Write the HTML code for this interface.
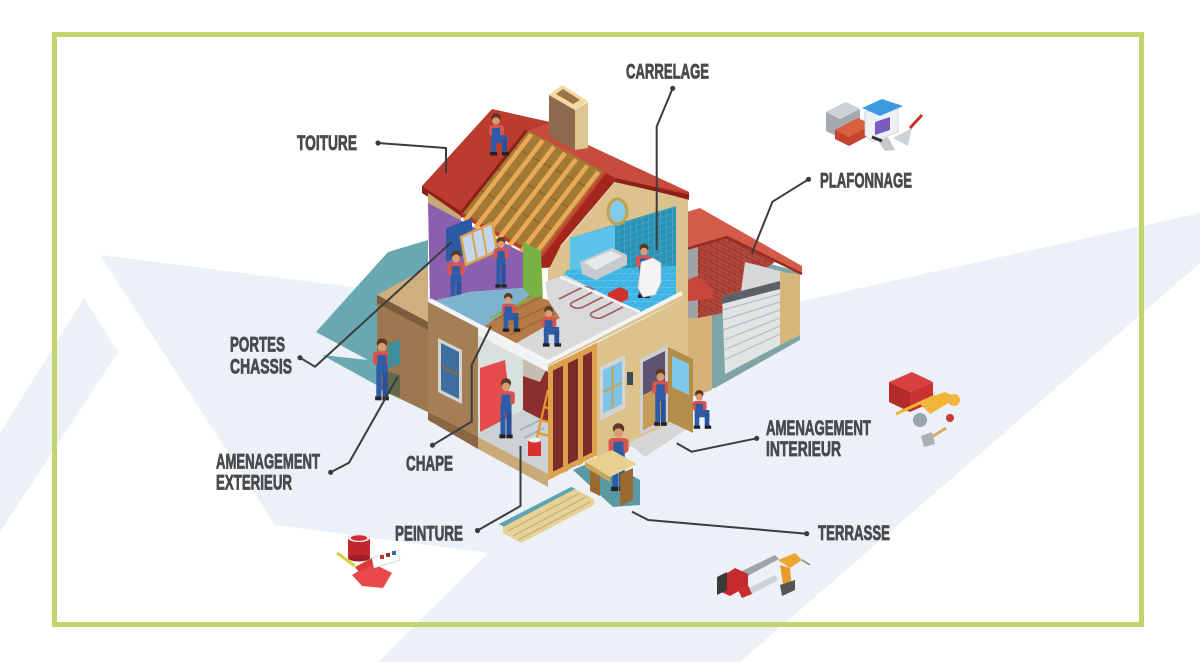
<!DOCTYPE html>
<html><head><meta charset="utf-8"><style>
html,body{margin:0;padding:0;background:#fff;}
svg{display:block;}
.lb{font-family:"Liberation Sans Narrow","Liberation Sans",sans-serif;font-weight:700;fill:#4a4a4c;stroke:#4a4a4c;stroke-width:0.8;font-size:21.5px;}
.ld{fill:none;stroke:#3c3c3e;stroke-width:2;stroke-linejoin:round;}
</style></head><body>
<svg width="1200" height="662" viewBox="0 0 1200 662" xmlns="http://www.w3.org/2000/svg">
<defs>
<pattern id="brick" width="12" height="8" patternUnits="userSpaceOnUse" patternTransform="skewY(28)">
<rect width="12" height="8" fill="#b3473b"/>
<path d="M0,0H12M0,4H12M3,0V4M9,4V8" stroke="#8f342b" stroke-width="0.9"/>
</pattern>
<pattern id="tile" width="6" height="6" patternUnits="userSpaceOnUse" patternTransform="skewY(-18)">
<rect width="6" height="6" fill="#2c92b3"/>
<path d="M0,0H6M0,0V6" stroke="#52b6d6" stroke-width="0.8"/>
</pattern>
<pattern id="ftile" width="7" height="7" patternUnits="userSpaceOnUse" patternTransform="skewX(-40)">
<rect width="7" height="7" fill="#3cb4e4"/>
<path d="M0,0H7M0,0V7" stroke="#7fd0f0" stroke-width="0.7"/>
</pattern>
<symbol id="w" viewBox="0 0 20 56">
<ellipse cx="10" cy="4.5" rx="4.6" ry="4.3" fill="#5b3a24"/>
<circle cx="10" cy="8" r="3.8" fill="#d89b72"/>
<rect x="2" y="12" width="16" height="12" rx="3" fill="#d9534f"/>
<rect x="6" y="15" width="8" height="10" fill="#2f5ca6"/>
<rect x="5" y="23" width="10" height="8" fill="#2f5ca6"/>
<rect x="5" y="30" width="4.6" height="21" fill="#2f5ca6"/>
<rect x="10.4" y="30" width="4.6" height="21" fill="#2a529a"/>
<rect x="4" y="51" width="5.6" height="3.5" fill="#222"/>
<rect x="10.4" y="51" width="5.6" height="3.5" fill="#222"/>
</symbol>
<symbol id="k" viewBox="0 0 24 44">
<ellipse cx="9" cy="4.5" rx="4.6" ry="4.3" fill="#5b3a24"/>
<circle cx="9" cy="8" r="3.8" fill="#d89b72"/>
<rect x="2" y="12" width="15" height="11" rx="3" fill="#d9534f"/>
<rect x="5" y="15" width="8" height="9" fill="#2f5ca6"/>
<rect x="4" y="22" width="16" height="8" fill="#2f5ca6"/>
<rect x="15" y="26" width="5" height="14" fill="#2a529a"/>
<rect x="4" y="26" width="5" height="14" fill="#2f5ca6"/>
<rect x="3" y="39" width="7" height="3.5" fill="#222"/>
<rect x="15" y="39" width="7" height="3.5" fill="#222"/>
</symbol>
</defs>

<!-- background -->
<rect width="1200" height="662" fill="#fff"/>
<polygon points="100,255 353,287 679,328 797,302 1200,213 1200,263 740,662 378,662 488,553 275,525" fill="#ecf1f7"/>
<polygon points="84,298 118,352 0,532 0,433" fill="#ecf1f7"/>
<rect x="54.5" y="34.5" width="1087" height="590" fill="none" stroke="#c3d46c" stroke-width="5"/>

<!-- teal ground left -->
<polygon points="316,332 388,252 428,240 428,412 413,405 322,355 368,360" fill="#69a8b1"/>

<!-- garage -->
<polygon points="683,240 800,272 800,340 715,388 683,392" fill="#7ea4a6"/>
<polygon points="683,300 712,298 712,390 683,400" fill="#d5b27a"/>
<polygon points="683,247 727,236 775,262 760,272 752,285 742,295 737,310 698,318 683,318" fill="url(#brick)"/>
<polygon points="683,247 698,243 698,318 683,318" fill="#9fa3a5"/>
<polygon points="745,262 795,275 795,305 783,305 760,312 738,312" fill="#d6d7d8"/>
<polygon points="780,272 800,274 800,335 780,345" fill="#d7b67b"/>
<polygon points="722,296 780,281 780,345 725,374" fill="#e1e4e5"/>
<g stroke="#b7bcbf" stroke-width="1.2">
<line x1="723" y1="310" x2="780" y2="294"/><line x1="723" y1="320" x2="780" y2="302"/><line x1="723" y1="330" x2="780" y2="310"/><line x1="724" y1="340" x2="780" y2="318"/><line x1="724" y1="350" x2="780" y2="326"/><line x1="724" y1="360" x2="780" y2="334"/>
</g>
<polygon points="722,296 780,281 780,289 722,304" fill="#5d6166"/>
<polygon points="683,213 700,208 802,266 802,274 727,237 683,250" fill="#d35b4a"/>
<polyline points="683,250 727,237 802,274" fill="none" stroke="#9b2b22" stroke-width="2.5"/>
<polygon points="683,282 697,276 713,290 713,298 683,302" fill="#c9473a"/>

<!-- gable face -->
<polygon points="548,262 556,252 615,182 688,199 688,296 548,366" fill="#dcc38d"/>
<!-- bathroom -->
<polygon points="570,238 676,206 676,268 570,272" fill="url(#tile)"/>
<polygon points="570,238 615,225 615,267 570,272" fill="#5ec3ea"/>
<polygon points="567,270 676,266 676,298 640,312 562,277" fill="url(#ftile)"/>
<polygon points="580,262 612,248 627,255 627,265 596,280 582,274" fill="#c7cbcf"/>
<polygon points="584,262 611,251 622,256 596,270" fill="#e6e8ea"/>
<use href="#w" x="634" y="243" width="20" height="57"/>
<polygon points="641,262 653,258 661,263 661,283 655,295 643,297 638,288" fill="#f4f4f4" stroke="#c0c0c0" stroke-width="0.8"/>
<polygon points="608,293 620,287 628,291 628,299 616,305 608,301" fill="#d0312d"/>
<ellipse cx="617.5" cy="211.5" rx="9.5" ry="12.5" fill="#83c9ea" stroke="#c4a04e" stroke-width="3"/>

<!-- main roof -->
<polygon points="492,109 550,122 588,145 689,192 689,200 615,180 561,243 548,268 535,268 533,256 462,217 422,193 422,186" fill="#bb3b2f"/>
<polygon points="549,123 588,145 689,192 615,180 604,172 527,131" fill="#c84c3e"/>
<polygon points="422,186 462,212 462,218 422,193" fill="#8c1f17"/>
<line x1="615" y1="180" x2="689" y2="197" stroke="#8c1f17" stroke-width="4"/>
<!-- rafters -->
<polygon points="462,212 527,130 604,172 540,256" fill="#a27a34"/>
<g stroke="#6f5020" stroke-width="1" opacity="0.6">
<line x1="480" y1="190" x2="558" y2="233"/><line x1="497" y1="168" x2="575" y2="211"/><line x1="514" y1="147" x2="592" y2="190"/>
</g>
<g stroke="#eaa957" stroke-width="4.5" stroke-linecap="butt">
<line x1="464.6" y1="221.1" x2="531.6" y2="134.1"/>
<line x1="475.7" y1="227.4" x2="542.7" y2="140.4"/>
<line x1="486.9" y1="233.7" x2="553.9" y2="146.7"/>
<line x1="498" y1="240" x2="565" y2="153"/>
<line x1="509.1" y1="246.3" x2="576.1" y2="159.3"/>
<line x1="520.3" y1="252.6" x2="587.3" y2="165.6"/>
<line x1="531.4" y1="258.9" x2="598.4" y2="171.9"/>
</g>
<line x1="462" y1="212" x2="527" y2="130" stroke="#8c1f17" stroke-width="3"/>
<polygon points="540,256 604,172 617,179 561,245 550,267 537,267" fill="#a3261d"/>
<line x1="541" y1="256" x2="605" y2="172" stroke="#c94236" stroke-width="3"/>
<!-- chimney -->
<polygon points="549,95 575,110 575,150 549,136" fill="#8d6a4e"/>
<polygon points="575,110 588,102 588,148 575,150" fill="#dcc590"/>
<polygon points="549,95 562,85 588,101 575,110" fill="#f1d9a0"/>
<polygon points="556,94 563,89 580,100 573,104" fill="#9b7448"/>

<!-- upper left rooms -->
<polygon points="428,193 461,216 461,222 428,203" fill="#c9a878"/>
<polygon points="428,203 462,221 533,258 523,262 523,288 470,292 430,302" fill="#8c5fae"/>
<polygon points="446,228 472,218 472,252 446,262" fill="#2b5aa6"/>
<polygon points="461,237 492,223 497,251 466,265" fill="#c5d5ef" stroke="#d9a548" stroke-width="2.5"/>
<line x1="472" y1="232" x2="477" y2="260" stroke="#d9a548" stroke-width="2"/>
<line x1="482" y1="228" x2="487" y2="256" stroke="#d9a548" stroke-width="2"/>
<polygon points="523,242 541,251 543,300 523,296" fill="#78b243"/>
<use href="#w" x="445" y="250" width="22" height="60"/>
<use href="#w" x="491" y="237" width="20" height="52"/>

<!-- upper floor -->
<polygon points="430,302 470,292 523,288 530,295 483,327" fill="#7db3cc"/>
<polygon points="483,327 530,295 548,300 560,318 515,344" fill="#b47a48"/>
<g stroke="#8e5c32" stroke-width="0.8"><line x1="494" y1="320" x2="541" y2="297"/><line x1="503" y1="327" x2="550" y2="305"/><line x1="510" y1="335" x2="555" y2="313"/></g>
<polygon points="515,344 560,318 548,300 545,282 565,275 640,312 548,362" fill="#d8d9da"/>
<g transform="matrix(1,0.5,1,-0.5,545,298)">
<path d="M8,6 L8,28 Q8,33 13,33 Q18,33 18,28 L18,10 Q18,5 23,5 Q28,5 28,10 L28,28 Q28,33 33,33 Q38,33 38,28 L38,10 Q38,5 43,5 Q48,5 48,10 L48,30" fill="none" stroke="#a25c5c" stroke-width="1.6" vector-effect="non-scaling-stroke"/>
</g>
<line x1="560" y1="277" x2="640" y2="312" stroke="#f4f4f4" stroke-width="2.5"/>
<line x1="490" y1="318" x2="535" y2="296" stroke="#79b543" stroke-width="2"/>
<use href="#k" x="500" y="290" width="22" height="46"/>
<use href="#k" x="540" y="305" width="23" height="44"/>
<polyline points="430,300 548,362 682,293" fill="none" stroke="#f4f4f4" stroke-width="4"/>

<!-- left extension -->
<polygon points="377,295 428,267 428,322" fill="#cfae7f"/>
<polygon points="377,295 428,322 428,412 377,388" fill="#9c774f"/>
<polygon points="377,295 428,322 428,330 377,303" fill="#7c5c3d"/>
<polygon points="383,370 400,375 400,397 383,392" fill="#5e6a4a"/>
<use href="#w" x="370" y="338" width="24" height="64"/>
<polygon points="388,344 400,340 400,364 388,368" fill="#3f8f9a"/>

<!-- lower left face -->
<polygon points="428,302 478,328 478,438 428,412" fill="#a47e55"/>
<polygon points="438,338 462,350 462,404 438,392" fill="#d2d2d2"/>
<polygon points="441,343 459,352 459,399 441,390" fill="#3e6f9e"/>
<line x1="441" y1="366" x2="459" y2="375" stroke="#8a6a3a" stroke-width="2"/>

<!-- lower room -->
<polygon points="478,330 548,367 548,475 478,438" fill="#d8e1de"/>
<polygon points="480,336 523,358 523,410 480,432" fill="#d8e1de"/>
<polygon points="480,368 505,360 512,420 480,432" fill="#e64b4b"/>
<polygon points="523,358 548,371 548,423 523,410" fill="#8b2e2e"/>
<polygon points="523,358 546,370 540,382 523,376" fill="#c7bcb0"/>
<polygon points="480,432 523,410 548,423 548,474 478,438" fill="#cbd1d4"/>
<g stroke="#9fb6c0" stroke-width="2"><line x1="520" y1="430" x2="540" y2="420"/><line x1="524" y1="438" x2="544" y2="428"/></g>
<use href="#w" x="494" y="378" width="24" height="62"/>
<g stroke="#e8962e" stroke-width="2.2"><line x1="535" y1="446" x2="548" y2="390"/><line x1="553" y1="451" x2="566" y2="395"/><line x1="538" y1="433" x2="557" y2="438"/><line x1="541" y1="420" x2="560" y2="425"/><line x1="544" y1="407" x2="563" y2="412"/></g>
<rect x="528" y="440" width="13" height="16" fill="#d8302f"/>
<ellipse cx="534.5" cy="440" rx="6.5" ry="2.5" fill="#eee"/>
<polygon points="478,330 548,367 548,372 478,335" fill="#f2f2f2"/>
<polygon points="478,437 548,474 548,487 478,449" fill="#c9aa78"/>
<polygon points="428,412 478,437 478,449 428,420" fill="#8a6643"/>

<!-- stud frame -->
<polygon points="548,367 597,343 597,455 548,480" fill="#7c2b2b"/>
<g fill="#dca14a">
<polygon points="548,367 553,365 553,478 548,480"/>
<polygon points="563,360 568,358 568,471 563,473"/>
<polygon points="578,352 583,350 583,463 578,466"/>
<polygon points="592,345 597,343 597,455 592,458"/>
<polygon points="548,367 597,343 597,349 548,373"/>
<polygon points="548,474 597,450 597,455 548,480"/>
</g>

<!-- front face lower -->
<polygon points="597,343 688,296 688,418 597,463" fill="#dcc38c"/>
<polygon points="600,367 625,355 625,408 600,421" fill="#d4d4d4"/>
<polygon points="603,370 622,361 622,404 603,413" fill="#7cc4ea"/>
<line x1="612.5" y1="366" x2="612.5" y2="409" stroke="#c9a14e" stroke-width="1.8"/>
<line x1="603" y1="392" x2="622" y2="383" stroke="#c9a14e" stroke-width="1.8"/>
<rect x="627" y="372" width="6" height="13" fill="#3b4a5a"/>
<polygon points="640,359 668,345 668,421 640,435" fill="#cfcfd1"/>
<polygon points="643,362 665,351 665,419 643,430" fill="#5d5470"/>
<polygon points="643,395 665,384 665,419 643,430" fill="#c59c58"/>
<polygon points="628,443 680,418 693,425 645,457" fill="#d6d6d6"/>
<use href="#w" x="650" y="367" width="21" height="62"/>
<polygon points="668,347 693,359 693,433 668,421" fill="#b48d48"/>
<polygon points="672,356 689,364 689,395 672,387" fill="#7ec8ea"/>
<use href="#k" x="691" y="383" width="22" height="54"/>

<!-- terrace -->
<polygon points="573,470 600,458 640,480 640,505 613,507" fill="#5b9aa5"/>
<use href="#w" x="606" y="422" width="25" height="72"/>
<polygon points="590,467 600,472 600,496 590,491" fill="#9b6a30"/>
<polygon points="620,474 633,468 633,500 620,506" fill="#9b6a30"/>
<polygon points="585,462 612,450 637,464 610,477" fill="#e9d08e"/>
<polygon points="585,462 610,477 610,482 585,467" fill="#c9a45a"/>
<polygon points="499,524 571,487 576,489 504,527" fill="#5da3b0"/>
<polygon points="503,527 575,489 594,499 594,505 521,543 503,533" fill="#e6d196"/>
<g stroke="#c4ab6c" stroke-width="1"><line x1="508" y1="531" x2="580" y2="493"/><line x1="513" y1="536" x2="586" y2="497"/><line x1="518" y1="540" x2="590" y2="502"/></g>

<!-- roof worker -->
<use href="#k" x="487" y="112" width="24" height="46"/>

<!-- leaders -->
<polyline class="ld" points="378,143 446,148 446,173"/><circle cx="378" cy="143" r="2.6" fill="#3c3c3e"/>
<polyline class="ld" points="672.7,88.3 656.7,126.5 656.7,250"/><circle cx="672.7" cy="88.3" r="2.6" fill="#3c3c3e"/>
<polyline class="ld" points="808.5,179.3 772.5,201.7 751.5,254"/><circle cx="808.5" cy="179.3" r="2.6" fill="#3c3c3e"/>
<polyline class="ld" points="300,357.7 315,366.7 452,241.7"/><circle cx="300" cy="357.7" r="2.6" fill="#3c3c3e"/>
<polyline class="ld" points="330.7,472.3 349,462.7 397.7,376.7"/><circle cx="330.7" cy="472.3" r="2.6" fill="#3c3c3e"/>
<polyline class="ld" points="432.5,445.2 471.7,421.5 471.7,365 491,326"/><circle cx="432.5" cy="445.2" r="2.6" fill="#3c3c3e"/>
<polyline class="ld" points="477.5,530.5 520.5,506 520.5,446"/><circle cx="477.5" cy="530.5" r="2.6" fill="#3c3c3e"/>
<polyline class="ld" points="756.7,438.3 691.7,451.7 676.7,443.3"/><circle cx="756.7" cy="438.3" r="2.6" fill="#3c3c3e"/>
<polyline class="ld" points="806.7,533.7 648.2,520 632,511.7"/><circle cx="806.7" cy="533.7" r="2.6" fill="#3c3c3e"/>

<!-- labels -->
<text class="lb" x="297" y="150" textLength="60" lengthAdjust="spacingAndGlyphs">TOITURE</text>
<text class="lb" x="626" y="78.5" textLength="83" lengthAdjust="spacingAndGlyphs">CARRELAGE</text>
<text class="lb" x="820" y="187.5" textLength="92" lengthAdjust="spacingAndGlyphs">PLAFONNAGE</text>
<text class="lb" x="230" y="351.5" textLength="55" lengthAdjust="spacingAndGlyphs">PORTES</text>
<text class="lb" x="230" y="373.5" textLength="62" lengthAdjust="spacingAndGlyphs">CHASSIS</text>
<text class="lb" x="216" y="468.5" textLength="104" lengthAdjust="spacingAndGlyphs">AMENAGEMENT</text>
<text class="lb" x="216" y="489.5" textLength="76" lengthAdjust="spacingAndGlyphs">EXTERIEUR</text>
<text class="lb" x="406" y="470.5" textLength="47" lengthAdjust="spacingAndGlyphs">CHAPE</text>
<text class="lb" x="395" y="540.5" textLength="68" lengthAdjust="spacingAndGlyphs">PEINTURE</text>
<text class="lb" x="766" y="435" textLength="105" lengthAdjust="spacingAndGlyphs">AMENAGEMENT</text>
<text class="lb" x="766" y="456" textLength="75" lengthAdjust="spacingAndGlyphs">INTERIEUR</text>
<text class="lb" x="818" y="540" textLength="72" lengthAdjust="spacingAndGlyphs">TERRASSE</text>

<!-- icon: materials -->
<polygon points="826,112 846,102 860,109 860,128 840,138 826,131" fill="#a6aaad"/>
<polygon points="826,112 846,102 860,109 840,119" fill="#cfd2d4"/>
<polygon points="835,130 858,118 872,125 872,134 849,146 835,139" fill="#c2462f"/>
<polygon points="835,130 858,118 872,125 849,137" fill="#d9603f"/>
<polygon points="865,112 898,104 898,132 872,142 865,135" fill="#eef2f6" stroke="#c8cdd2" stroke-width="0.8"/>
<polygon points="862,108 882,99 903,106 880,116" fill="#3a9be0"/>
<polygon points="875,122 890,117 890,130 875,135" fill="#7a5bbf"/>
<polygon points="893,138 912,128 908,146" fill="#cfd3d6"/>
<line x1="910" y1="128" x2="922" y2="115" stroke="#c7352a" stroke-width="3"/>
<polygon points="878,141 888,137 895,150 885,151" fill="#c8c8c8"/>
<line x1="872" y1="137" x2="882" y2="141" stroke="#333" stroke-width="3"/>

<!-- icon: toolbox -->
<polygon points="889,382 912,372 933,382 910,392" fill="#d94040"/>
<polygon points="889,382 910,392 910,412 889,402" fill="#b52a2a"/>
<polygon points="910,392 933,382 933,402 910,412" fill="#c93333"/>
<line x1="896" y1="414" x2="935" y2="396" stroke="#e9b730" stroke-width="3"/>
<circle cx="920" cy="420" r="7" fill="#9aa3a9"/>
<polygon points="918,402 945,392 957,398 930,414" fill="#f2b53a"/>
<circle cx="954" cy="400" r="6" fill="#f2b53a"/>
<circle cx="950" cy="418" r="4" fill="#d13a30"/>
<line x1="927" y1="440" x2="946" y2="428" stroke="#d9a864" stroke-width="3"/>
<polygon points="921,436 932,432 935,444 924,447" fill="#a9b1b5"/>

<!-- icon: paint -->
<line x1="337" y1="553" x2="355" y2="566" stroke="#d3d23a" stroke-width="3"/>
<polygon points="352,575 372,563 392,573 383,588 362,586" fill="#e8484a"/>
<polygon points="355,567 372,558 376,563 359,572" fill="#d93b3b"/>
<polygon points="372,558 398,550 400,560 374,568" fill="#fff" stroke="#ccc" stroke-width="0.8"/>
<rect x="380" y="555" width="4" height="4" fill="#c0392b"/><rect x="386" y="553" width="4" height="4" fill="#a93226"/><rect x="392" y="551" width="4" height="4" fill="#2e6da4"/>
<rect x="348" y="538" width="22" height="20" fill="#c3262d"/>
<ellipse cx="359" cy="558" rx="11" ry="3.5" fill="#9e1e24"/>
<ellipse cx="359" cy="538" rx="11" ry="4" fill="#e9e9e9"/>
<ellipse cx="359" cy="538" rx="8" ry="2.8" fill="#d02c33"/>

<!-- icon: tools -->
<polygon points="740,572 775,555 779,559 744,578" fill="#9ea3a6"/>
<polygon points="717,580 735,568 748,574 748,586 730,596 717,590" fill="#c62a2a"/>
<polygon points="717,577 727,572 727,590 717,595" fill="#3a3a3a"/>
<polygon points="745,590 775,575 778,580 750,595" fill="#cfd2d4"/>
<polygon points="738,590 748,585 752,594 742,598" fill="#c92f2f"/>
<polygon points="778,560 795,553 802,560 790,568" fill="#f0a531"/>
<polygon points="780,565 790,568 792,588 784,590" fill="#e59a2a"/>
<polygon points="780,585 795,580 795,590 782,596" fill="#555"/>
<line x1="802" y1="560" x2="810" y2="565" stroke="#888" stroke-width="1.5"/>
</svg>
</body></html>
